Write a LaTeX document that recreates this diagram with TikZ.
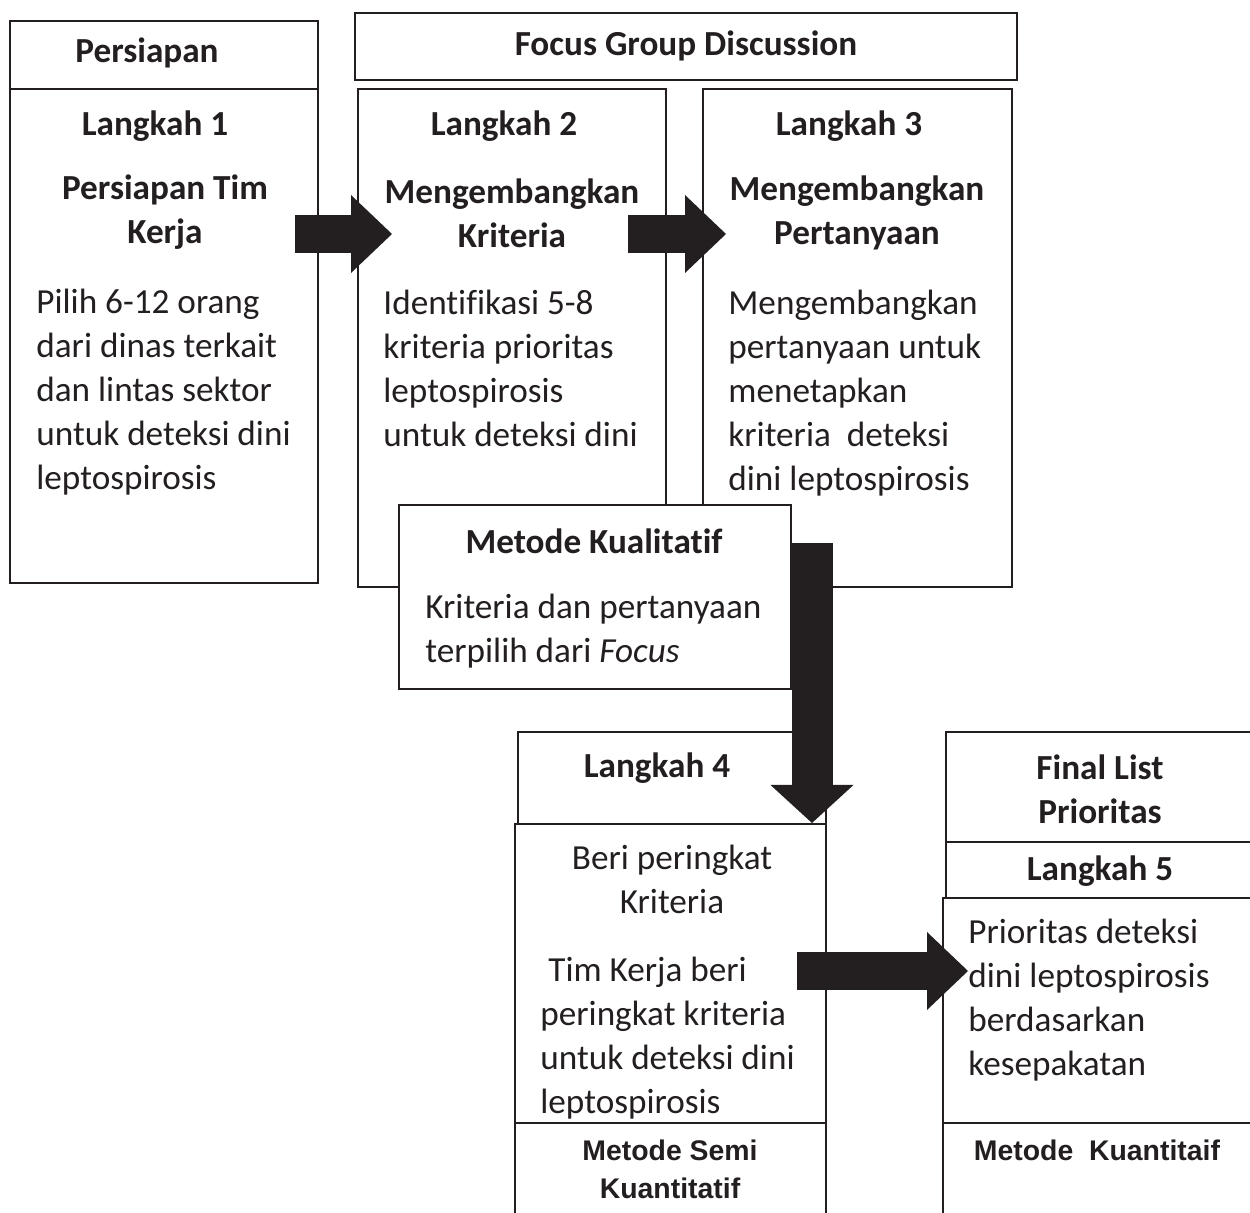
\documentclass[tikz,border=0pt]{standalone}
\usepackage{fontspec}
\setmainfont{Carlito}[Ligatures=NoCommon]
\newfontfamily\arialfont{Liberation Sans}
\usetikzlibrary{arrows.meta,positioning}
\definecolor{ink}{RGB}{35,31,32}
\tikzset{
    >={Triangle[]},
    box/.style={draw=ink,line width=1pt,fill=white},
    head/.style={font=\fontsize{17.6}{22}\selectfont\bfseries,text=ink,inner sep=0pt,align=center},
    note/.style={font=\fontsize{17.6}{22}\selectfont,text=ink,inner sep=0pt,align=center},
    body/.style={font=\fontsize{17.6}{22}\selectfont,text=ink,inner sep=0pt,align=left,anchor=north west},
    meth/.style={font=\arialfont\fontsize{14.2}{19}\selectfont\bfseries,text=ink,inner sep=0pt,align=center},
    fat/.style={draw=ink,line width=19pt,-{Triangle[length=20.5pt,width=39pt,line width=0pt]}},
    fatdown/.style={draw=ink,line width=20.5pt,-{Triangle[length=19pt,width=41.5pt,line width=0pt]}}
}
\begin{document}
\begin{tikzpicture}[x=0.5pt,y=-0.5pt]
    \useasboundingbox (0,0) rectangle (1250,1213);
    \clip (0,0) rectangle (1250,1213);
    \draw[box] (10,21) rectangle (318,89);
    \draw[box] (10,89) rectangle (318,583);
    \draw[box] (355,13) rectangle (1017,80);
    \draw[box] (358,89) rectangle (666,587);
    \draw[box] (703,89) rectangle (1012,587);

    \node[head] (persiapan) at (147,53) {Persiapan};
    \node[head] (fgd) at (686,46) {Focus Group Discussion};
    \node[head] (step1) at (155,126) {Langkah 1};
    \node[head] (title1) at (165,212) {Persiapan Tim\\Kerja};
    \node[body] (text1) at (36,289) {Pilih 6-12 orang\\dari dinas terkait\\dan lintas sektor\\untuk deteksi dini\\leptospirosis};
    \node[head] (step2) at (504,126) {Langkah 2};
    \node[head] (title2) at (512,213) {Mengembangkan\\Kriteria};
    \node[body] (text2) at (383,290) {Identifikasi 5-8\\kriteria prioritas\\leptospirosis\\untuk deteksi dini};
    \node[head] (step3) at (849,126) {Langkah 3};
    \node[head] (title3) at (857,213) {Mengembangkan\\Pertanyaan};
    \node[body] (text3) at (728,290) {Mengembangkan\\pertanyaan untuk\\menetapkan\\kriteria\ \ deteksi\\dini leptospirosis};

    \draw[box] (399,505) rectangle (791,689);
    \node[head] (kual) at (594,541) {Metode Kualitatif};
    \node[body] (kualtext) at (425,594) {Kriteria dan pertanyaan\\terpilih dari \textit{Focus}};

    \draw[box] (518,732) rectangle (826,824);
    \draw[box] (515,824) rectangle (826,1123);
    \draw[box] (515,1123) rectangle (826,1230);
    \node[head] (step4) at (657,768) {Langkah 4};
    \node[note] (title4) at (672,879) {Beri peringkat\\Kriteria};
    \node[body] (text4) at (540,957) {\ Tim Kerja beri\\peringkat kriteria\\untuk deteksi dini\\leptospirosis};
    \node[meth] (semi) at (670,1169) {Metode Semi\\Kuantitatif};

    \draw[box] (946,732) rectangle (1260,842);
    \draw[box] (946,842) rectangle (1260,898);
    \draw[box] (943,898) rectangle (1260,1123);
    \draw[box] (943,1123) rectangle (1260,1230);
    \node[head] (final) at (1100,789) {Final List\\Prioritas};
    \node[head] (step5) at (1100,871) {Langkah 5};
    \node[body] (text5) at (968,919) {Prioritas deteksi\\dini leptospirosis\\berdasarkan\\kesepakatan};
    \node[meth] (kuan) at (1097,1150) {Metode\ \ Kuantitaif};

    \coordinate (a1s) at (295,234);
    \coordinate (a1e) at (392,234);
    \coordinate (a2s) at (628,234);
    \coordinate (a2e) at (726,234);
    \coordinate (a3s) at (812,543);
    \coordinate (a3e) at (812,823);
    \coordinate (a4s) at (797,971);
    \coordinate (a4e) at (968,971);
    \draw[fat] (a1s) -- (a1e);
    \draw[fat] (a2s) -- (a2e);
    \draw[fatdown] (a3s) -- (a3e);
    \draw[fat] (a4s) -- (a4e);
\end{tikzpicture}
\end{document}
